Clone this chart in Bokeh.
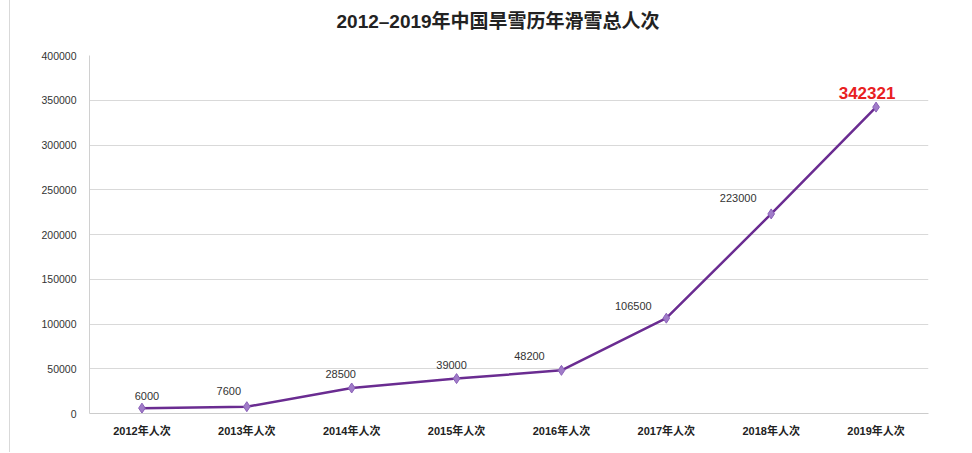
from bokeh.plotting import figure
from bokeh.models import ColumnDataSource, LabelSet, FactorRange, Range1d, SingleIntervalTicker, Title
from bokeh.core.properties import value
from bokeh.embed import file_html
from bokeh.resources import INLINE

categories = ["2012年人次", "2013年人次", "2014年人次", "2015年人次",
              "2016年人次", "2017年人次", "2018年人次", "2019年人次"]
visits = [6000, 7600, 28500, 39000, 48200, 106500, 223000, 342321]
title_text = "2012–2019年中国旱雪历年滑雪总人次"

# label placement styles (screen px), separate from data
lab_dx = [5, -18, -11, -5, -32, -33, -33]
lab_dy = [12, 16, 14, 14, 14, 12, 16]

FONT = "'Liberation Sans', 'Noto Sans CJK SC', sans-serif"

p = figure(x_range=FactorRange(*categories), y_range=Range1d(0, 400000),
           width=960, height=467, output_backend="svg", toolbar_location=None,
           min_border_left=79, min_border_right=42, min_border_top=48, min_border_bottom=39)
p.styles = {"margin-left": "9px", "margin-top": "-15px",
            "border-left": "1px solid #d9d9d9"}

t = Title(text=title_text, align="left", offset=247, standoff=47,
          text_font=FONT, text_font_size="19px", text_font_style="bold", text_color="#222222")
p.add_layout(t, "above")

p.outline_line_color = None
p.background_fill_color = "white"
p.border_fill_color = "white"

p.yaxis.ticker = SingleIntervalTicker(interval=50000)
p.yaxis.formatter.use_scientific = False
p.yaxis.major_tick_line_color = None
p.yaxis.minor_tick_line_color = None
p.yaxis.axis_line_color = "#d0d0d0"
p.yaxis.major_label_text_font = FONT
p.yaxis.major_label_text_font_size = "10.5px"
p.yaxis.major_label_text_color = "#333333"
p.yaxis.major_label_standoff = 7

p.xaxis.major_tick_line_color = None
p.xaxis.axis_line_color = "#cccccc"
p.xaxis.major_label_text_font = FONT
p.xaxis.major_label_text_font_size = "11px"
p.xaxis.major_label_text_font_style = "bold"
p.xaxis.major_label_text_color = "#222222"
p.xaxis.major_label_standoff = 5

p.xgrid.grid_line_color = None
p.ygrid.grid_line_color = "#d9d9d9"

src = ColumnDataSource(dict(x=categories, y=visits, t=[str(v) for v in visits]))
p.line("x", "y", source=src, line_color="#6a2c91", line_width=2.5)
p.scatter("x", "y", source=src, marker="diamond", size=10,
          fill_color="#a07cc8", line_color="#8a60b8")

n = len(categories) - 1
src_lab = ColumnDataSource(dict(x=categories[:n], y=visits[:n], t=[str(v) for v in visits[:n]],
                                dx=lab_dx, dy=lab_dy))
labels = LabelSet(x="x", y="y", text="t", source=src_lab, x_offset="dx", y_offset="dy",
                  text_align="center", text_baseline="middle",
                  text_font=value(FONT), text_font_size=value("11px"), text_color="#333333")
p.add_layout(labels)

src_last = ColumnDataSource(dict(x=categories[n:], y=visits[n:], t=[str(v) for v in visits[n:]]))
last = LabelSet(x="x", y="y", text="t", source=src_last, x_offset=-9, y_offset=14,
                text_align="center", text_baseline="middle",
                text_font=value(FONT), text_font_size=value("17px"), text_font_style="bold",
                text_color="#e8201f")
p.add_layout(last)

open("out.html", "w").write(file_html(p, INLINE))
